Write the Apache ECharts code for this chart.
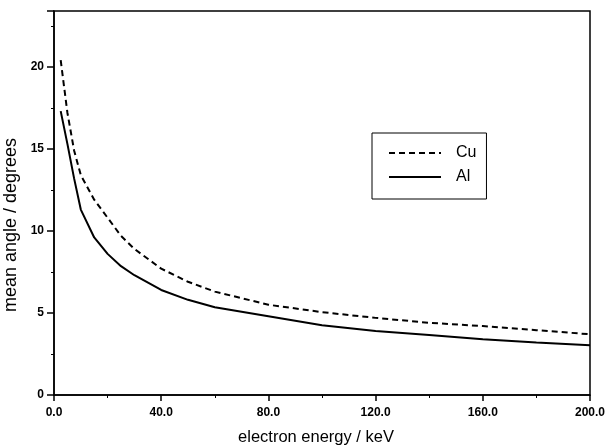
<!DOCTYPE html>
<html>
<head>
<meta charset="utf-8">
<script src="https://cdn.jsdelivr.net/npm/echarts@6/dist/echarts.min.js"></script>
<style>
    html, body {margin: 0; padding: 0; background: #fff;}
</style>
</head>
<body>
<div id="chart" style="width: 608px;height: 446px;"></div>
<script>
    // electron energy (keV)
    var energy = [2.5, 5, 7.5, 10, 15, 20, 25, 30, 40, 50, 60, 80, 100, 120, 140, 160, 180, 200];
    // mean angle (degrees)
    var cuAngle = [20.4, 17.2, 14.9, 13.4, 11.9, 10.8, 9.7, 8.9, 7.7, 6.9, 6.3, 5.5, 5.05, 4.7, 4.4, 4.2, 3.95, 3.7];
    var alAngle = [17.3, 15.3, 13.2, 11.3, 9.6, 8.6, 7.85, 7.3, 6.4, 5.8, 5.35, 4.8, 4.25, 3.9, 3.65, 3.4, 3.2, 3.03];

    function pairs(xs, ys) {
        var out = [];
        for (var i = 0; i < xs.length; i++) {
            out.push([xs[i], ys[i]]);
        }
        return out;
    }

    var font = 'Liberation Sans, Arial, sans-serif';
    var myChart = echarts.init(document.getElementById('chart'));
    myChart.setOption({
        animation: false,
        grid: {
            left: 54, right: 18, top: 11, bottom: 51,
            outerBoundsMode: 'none',
            containLabel: false,
            show: true,
            borderColor: '#000',
            borderWidth: 1.5
        },
        legend: {
            orient: 'vertical',
            left: 372,
            top: 133,
            data: ['Cu', 'Al'],
            itemWidth: 52,
            itemHeight: 14,
            itemGap: 8,
            padding: [12, 10, 14, 16],
            borderColor: '#000',
            borderWidth: 1,
            itemStyle: {opacity: 0},
            textStyle: {
                fontFamily: font,
                fontSize: 16,
                color: '#000',
                padding: [0, 0, 0, 10]
            }
        },
        xAxis: {
            type: 'value',
            min: 0,
            max: 200,
            interval: 40,
            name: 'electron energy / keV',
            nameLocation: 'middle',
            nameGap: 34,
            nameTextStyle: {fontFamily: font, fontSize: 16.5, color: '#000', padding: [0, 12, 0, 0]},
            axisLine: {lineStyle: {color: '#000', width: 1.5}},
            axisTick: {length: 6, lineStyle: {color: '#000', width: 1.5}},
            minorTick: {show: true, splitNumber: 2, length: 3, lineStyle: {color: '#000'}},
            splitLine: {show: false},
            axisLabel: {
                fontFamily: font, fontSize: 12, fontWeight: 'bold', color: '#000', margin: 12,
                formatter: function (v) { return v.toFixed(1); }
            }
        },
        yAxis: {
            type: 'value',
            min: 0,
            max: 23.4,
            interval: 5,
            name: 'mean angle / degrees',
            nameLocation: 'middle',
            nameGap: 25,
            nameTextStyle: {fontFamily: font, fontSize: 18, color: '#000', padding: [0, 44, 0, 0]},
            axisLine: {lineStyle: {color: '#000', width: 1.5}},
            axisTick: {length: 7, lineStyle: {color: '#000', width: 1.5}},
            minorTick: {show: true, splitNumber: 2, length: 3, lineStyle: {color: '#000'}},
            splitLine: {show: false},
            axisLabel: {
                fontFamily: font, fontSize: 12, fontWeight: 'bold', color: '#000', margin: 10,
                showMaxLabel: false,
                formatter: function (v) { return v % 5 === 0 ? String(v) : ''; }
            }
        },
        series: [
            {
                name: 'Cu',
                type: 'line',
                data: pairs(energy, cuAngle),
                symbol: 'none',
                lineStyle: {color: '#000', width: 2, type: [6, 4]},
                itemStyle: {color: '#000'}
            },
            {
                name: 'Al',
                type: 'line',
                data: pairs(energy, alAngle),
                symbol: 'none',
                lineStyle: {color: '#000', width: 2},
                itemStyle: {color: '#000'}
            }
        ]
    });
</script>
</body>
</html>
